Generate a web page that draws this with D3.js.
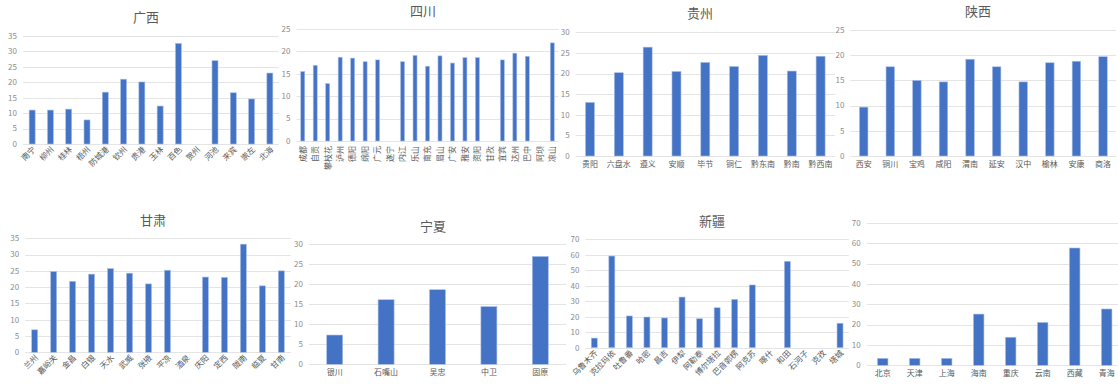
<!DOCTYPE html>
<html>
<head>
<meta charset="utf-8">
<script src="https://cdn.jsdelivr.net/npm/d3@7"></script>
<style>
  html, body { margin: 0; padding: 0; background: #fff; }
  svg { display: block; font-family: "Noto Sans CJK SC", "Noto Sans", sans-serif; }
</style>
</head>
<body>
<div id="chart-area"></div>
<script>
// ---- data ----
const guangxiCities = ["南宁","柳州","桂林","梧州","防城港","钦州","贵港","玉林","百色","贺州","河池","来宾","崇左","北海"];
const guangxiValues = [11.0, 11.0, 11.3, 7.8, 16.8, 21.0, 20.1, 12.3, 32.6, null, 27.0, 16.6, 14.6, 23.0];

const sichuanCities = ["成都","自贡","攀枝花","泸州","德阳","绵阳","广元","遂宁","内江","乐山","南充","眉山","广安","雅安","资阳","甘孜","宜宾","达州","巴中","阿坝","凉山"];
const sichuanValues = [15.5, 16.9, 12.8, 18.7, 18.5, 17.7, 18.1, null, 17.7, 19.1, 16.7, 19.0, 17.4, 18.6, 18.6, null, 18.1, 19.6, 18.9, null, 21.9];

const guizhouCities = ["贵阳","六盘水","遵义","安顺","毕节","铜仁","黔东南","黔南","黔西南"];
const guizhouValues = [13.0, 20.2, 26.4, 20.5, 22.7, 21.7, 24.4, 20.6, 24.2];

const shaanxiCities = ["西安","铜川","宝鸡","咸阳","渭南","延安","汉中","榆林","安康","商洛"];
const shaanxiValues = [9.7, 17.7, 15.0, 14.7, 19.2, 17.7, 14.7, 18.5, 18.8, 19.7];

const gansuCities = ["兰州","嘉峪关","金昌","白银","天水","武威","张掖","平凉","酒泉","庆阳","定西","陇南","临夏","甘南"];
const gansuValues = [6.9, 24.8, 21.8, 24.0, 25.7, 24.3, 21.0, 25.2, null, 23.1, 23.0, 33.2, 20.4, 25.0];

const ningxiaCities = ["银川","石嘴山","吴忠","中卫","固原"];
const ningxiaValues = [7.3, 16.1, 18.6, 14.4, 26.9];

const xinjiangCities = ["乌鲁木齐","克拉玛依","吐鲁番","哈密","昌吉","伊犁","阿勒泰","博尔塔拉","巴音郭楞","阿克苏","喀什","和田","石河子","克孜","塔城"];
const xinjiangValues = [6.2, 59.2, 20.5, 19.8, 19.2, 32.7, 18.7, 25.8, 31.2, 40.5, null, 55.8, null, null, 15.8];

const otherRegions = ["北京","天津","上海","海南","重庆","云南","西藏","青海"];
const otherValues = [3.4, 3.4, 3.4, 25.2, 13.8, 21.1, 57.7, 27.7];

// ---- layout ----
const W = 1118, H = 385;
const BAR = "#4472C4";
const TXT = "#595959";
const GRID = "#e4e4e4";

const panels = [
  { title: "广西", cats: guangxiCities, vals: guangxiValues, max: 35, step: 5,
    x0: 23, x1: 279, yTop: 36, yBot: 144, tx: 146, ty: 22, rot: -45, bw: 6 },
  { title: "四川", cats: sichuanCities, vals: sichuanValues, max: 25, step: 5,
    x0: 296.5, x1: 558.5, yTop: 29, yBot: 141, tx: 423, ty: 16, rot: -90, bw: 4 },
  { title: "贵州", cats: guizhouCities, vals: guizhouValues, max: 30, step: 5,
    x0: 575.6, x1: 835, yTop: 32.3, yBot: 156, tx: 700, ty: 18, rot: 0, bw: 9 },
  { title: "陕西", cats: shaanxiCities, vals: shaanxiValues, max: 25, step: 5,
    x0: 850.4, x1: 1116.3, yTop: 30, yBot: 156, tx: 978, ty: 16, rot: 0, bw: 8.5 },
  { title: "甘肃", cats: gansuCities, vals: gansuValues, max: 35, step: 5,
    x0: 25.2, x1: 290.8, yTop: 238.3, yBot: 352.3, tx: 153, ty: 225, rot: -45, bw: 6 },
  { title: "宁夏", cats: ningxiaCities, vals: ningxiaValues, max: 30, step: 5,
    x0: 309, x1: 566, yTop: 244, yBot: 364.3, tx: 433, ty: 231, rot: 0, bw: 16 },
  { title: "新疆", cats: xinjiangCities, vals: xinjiangValues, max: 70, step: 10,
    x0: 585.5, x1: 848.8, yTop: 239.3, yBot: 347.7, tx: 712, ty: 226, rot: -45, bw: 6 },
  { title: "", cats: otherRegions, vals: otherValues, max: 70, step: 10,
    x0: 866.7, x1: 1122.7, yTop: 223, yBot: 365.3, tx: 0, ty: 0, rot: 0, bw: 10.5 }
];

const svg = d3.select("#chart-area").append("svg")
  .attr("width", W)
  .attr("height", H);

panels.forEach(p => {
  const g = svg.append("g");

  const x = d3.scaleBand()
    .domain(p.cats)
    .range([p.x0, p.x1]);

  const y = d3.scaleLinear()
    .domain([0, p.max])
    .range([p.yBot, p.yTop]);

  const ticks = d3.range(0, p.max + p.step / 2, p.step);

  // gridlines
  g.selectAll("line.grid")
    .data(ticks)
    .enter().append("line")
    .attr("class", "grid")
    .attr("x1", p.x0)
    .attr("x2", Math.min(p.x1, W))
    .attr("y1", d => Math.round(y(d)) + 0.5)
    .attr("y2", d => Math.round(y(d)) + 0.5)
    .attr("stroke", GRID)
    .attr("stroke-width", 1);

  // y tick labels
  g.selectAll("text.ytick")
    .data(ticks)
    .enter().append("text")
    .attr("class", "ytick")
    .attr("x", p.x0 - 6)
    .attr("y", d => y(d))
    .attr("dy", "0.35em")
    .attr("text-anchor", "end")
    .attr("font-size", 8)
    .attr("fill", "#8c8c8c")
    .text(d => d);

  // bars
  const data = p.cats.map((c, i) => ({ cat: c, v: p.vals[i] })).filter(d => d.v != null);
  g.selectAll("rect")
    .data(data)
    .enter().append("rect")
    .attr("x", d => x(d.cat) + x.bandwidth() / 2 - p.bw / 2)
    .attr("y", d => y(d.v))
    .attr("width", p.bw)
    .attr("height", d => p.yBot - y(d.v))
    .attr("fill", BAR)
    .attr("stroke", "#a9c0e8")
    .attr("stroke-width", 0.6);

  // x labels
  const lab = g.selectAll("text.xlab")
    .data(p.cats)
    .enter().append("text")
    .attr("class", "xlab")
    .attr("font-size", 8)
    .attr("fill", TXT)
    .text(d => d);

  if (p.rot === 0) {
    lab.attr("x", d => x(d) + x.bandwidth() / 2)
      .attr("y", p.yBot + 11)
      .attr("text-anchor", "middle");
  } else if (p.rot === -45) {
    lab.attr("text-anchor", "end")
      .attr("transform", d => `translate(${x(d) + x.bandwidth() / 2 + 4}, ${p.yBot + 6}) rotate(-45)`);
  } else {
    lab.attr("text-anchor", "end")
      .attr("dy", "0.35em")
      .attr("transform", d => `translate(${x(d) + x.bandwidth() / 2}, ${p.yBot + 5}) rotate(-90)`);
  }

  // title
  if (p.title) {
    g.append("text")
      .attr("x", p.tx)
      .attr("y", p.ty)
      .attr("text-anchor", "middle")
      .attr("font-size", 13)
      .attr("fill", TXT)
      .text(p.title);
  }
});
</script>
</body>
</html>
